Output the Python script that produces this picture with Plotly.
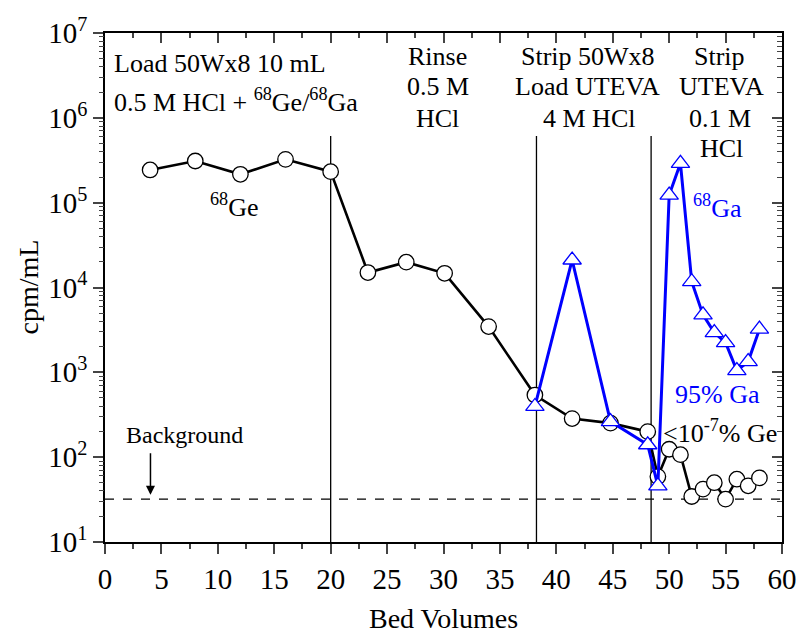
import plotly.graph_objects as go

# ---- data ----
ge_x = [4, 8, 12, 16, 20, 23.3, 26.7, 30.1, 34.0, 38.1, 41.4, 44.8, 48.1,
        49, 50, 51, 52, 53, 54, 55, 56, 57, 58]
ge_y = [2.43e5, 3.1e5, 2.16e5, 3.24e5, 2.32e5, 1.5e4, 1.99e4, 1.47e4, 3.46e3,
        540, 285, 252, 200, 59, 124, 107, 34.4, 42, 50, 32, 55, 46, 57]

ga_x = [38.1, 41.4, 44.8, 48.1, 49, 50, 51, 52, 53, 54, 55, 56, 57, 58]
ga_y = [396, 2.11e4, 263, 140, 46, 1.23e5, 2.91e5, 1.17e4, 4.75e3, 2.94e3,
        2.24e3, 1.05e3, 1.34e3, 3.23e3]

divider_x = [20, 38.24, 48.4]
divider_top = 6.1e5
background_level = 32

x_ticks = list(range(0, 61, 5))
y_tickvals = [10 ** k for k in range(1, 8)]
y_ticktext = ["10<sup>%d</sup>" % k for k in range(1, 8)]
y_minor = [m * 10 ** k for k in range(1, 7) for m in range(2, 10)]

FONT = "Liberation Serif, Times New Roman, serif"
BLUE = "#0000ff"

fig = go.Figure()

# dividers
for xv in divider_x:
    fig.add_trace(go.Scatter(x=[xv, xv], y=[10, divider_top], mode="lines",
                             line=dict(color="black", width=1.3),
                             showlegend=False, hoverinfo="skip"))
# background dashed line
fig.add_trace(go.Scatter(x=[0, 60], y=[background_level, background_level],
                         mode="lines", line=dict(color="black", width=1.3, dash="dash"),
                         showlegend=False, hoverinfo="skip"))

fig.add_trace(go.Scatter(x=ge_x, y=ge_y, mode="lines+markers", name="68Ge",
                         line=dict(color="black", width=2.6),
                         marker=dict(symbol="circle", size=15.5, color="white",
                                     line=dict(color="black", width=1.3)),
                         showlegend=False))
fig.add_trace(go.Scatter(x=ga_x, y=ga_y, mode="lines+markers", name="68Ga",
                         line=dict(color=BLUE, width=3),
                         marker=dict(symbol="triangle-up", size=16, color="white",
                                     line=dict(color=BLUE, width=1.3)),
                         showlegend=False))

# dummy traces for the extra (mirror / minor-tick) axes
for ya in ["y2", "y3", "y4"]:
    fig.add_trace(go.Scatter(x=[None], y=[None], xaxis="x2" if ya == "y2" else "x",
                             yaxis=ya, showlegend=False, hoverinfo="skip"))

tickfont = dict(family=FONT, size=29, color="black")
common_log = dict(type="log", range=[1, 7], showgrid=False, zeroline=False)

fig.update_layout(
    width=809, height=634,
    margin=dict(l=105, r=24, t=33, b=92),
    paper_bgcolor="white", plot_bgcolor="white",
    font=dict(family=FONT, color="black"),
    xaxis=dict(range=[0, 60], tickvals=x_ticks, ticks="outside", ticklen=10,
               tickwidth=1.6, showline=True, linecolor="black", linewidth=1.6,
               showgrid=False, zeroline=False, tickfont=tickfont,
               minor=dict(dtick=2.5, tick0=0, ticks="outside", ticklen=5,
                          tickwidth=1.6, showgrid=False)),
    xaxis2=dict(range=[0, 60], overlaying="x", side="top", tickvals=x_ticks,
                ticks="inside", ticklen=10, tickwidth=1.6, showline=True,
                linecolor="black", linewidth=1.6, showticklabels=False,
                showgrid=False, zeroline=False,
                minor=dict(dtick=2.5, tick0=0, ticks="inside", ticklen=5,
                           tickwidth=1.6, showgrid=False)),
    yaxis=dict(**common_log, tickvals=y_tickvals, ticktext=y_ticktext,
               ticks="outside", ticklen=10, tickwidth=1.6, showline=True,
               linecolor="black", linewidth=1.6, tickfont=tickfont),
    yaxis2=dict(**common_log, overlaying="y", side="right",
                tickvals=y_tickvals, ticks="inside", ticklen=10, tickwidth=1.6,
                showline=True, linecolor="black", linewidth=1.6,
                showticklabels=False),
    yaxis3=dict(**common_log, overlaying="y", side="left", tickvals=y_minor,
                ticks="outside", ticklen=5, tickwidth=1.2, showline=False,
                showticklabels=False),
    yaxis4=dict(**common_log, overlaying="y", side="right", tickvals=y_minor,
                ticks="inside", ticklen=5, tickwidth=1.2, showline=False,
                showticklabels=False),
)

ann_font = dict(family=FONT, size=26, color="black")
blue_font = dict(family=FONT, size=26, color=BLUE)

def add_text(x, ylog, text, font=ann_font, xanchor="center"):
    fig.add_annotation(x=x, y=ylog, xref="x", yref="y", text=text, showarrow=False,
                       font=font, xanchor=xanchor, yanchor="middle")

add_text(0.6, 6.642, "Load 50Wx8 10 mL", xanchor="left")
add_text(0.6, 6.21, "0.5 M HCl + <sup>68</sup>Ge/<sup>68</sup>Ga", xanchor="left")
add_text(11.5, 4.97, "<sup>68</sup>Ge")

add_text(29.5, 6.728, "Rinse")
add_text(29.5, 6.366, "0.5 M")
add_text(29.5, 5.994, "HCl")

add_text(42.8, 6.728, "Strip 50Wx8")
add_text(42.8, 6.366, "Load UTEVA")
add_text(42.9, 5.994, "4 M HCl")

add_text(54.5, 6.728, "Strip")
add_text(54.6, 6.366, "UTEVA")
add_text(54.5, 5.994, "0.1 M")
add_text(54.6, 5.641, "HCl")

add_text(54.3, 4.95, "<sup>68</sup>Ga", font=blue_font)
add_text(54.3, 2.735, "95% Ga", font=blue_font)
add_text(54.5, 2.303, "<10<sup>-7</sup>% Ge")

fig.add_annotation(x=7.06, y=2.265, xref="x", yref="y", text="Background",
                   showarrow=False, font=dict(family=FONT, size=24, color="black"))
fig.add_annotation(x=4.03, y=1.557, ax=4.03, ay=2.064, xref="x", yref="y",
                   axref="x", ayref="y", text="", showarrow=True, arrowhead=2,
                   arrowsize=1.2, arrowwidth=1.5, arrowcolor="black")

fig.add_annotation(x=0.5, y=0, xref="paper", yref="paper", yshift=-76,
                   text="Bed Volumes", showarrow=False, yanchor="middle",
                   font=dict(family=FONT, size=28, color="black"))
fig.add_annotation(x=0, y=0.5, xref="paper", yref="paper", xshift=-77,
                   text="cpm/mL", showarrow=False, textangle=-90,
                   xanchor="center", yanchor="middle",
                   font=dict(family=FONT, size=28, color="black"))

fig.write_html("out.html", config={"displayModeBar": False},
               post_script="document.body.style.margin='0px';")
